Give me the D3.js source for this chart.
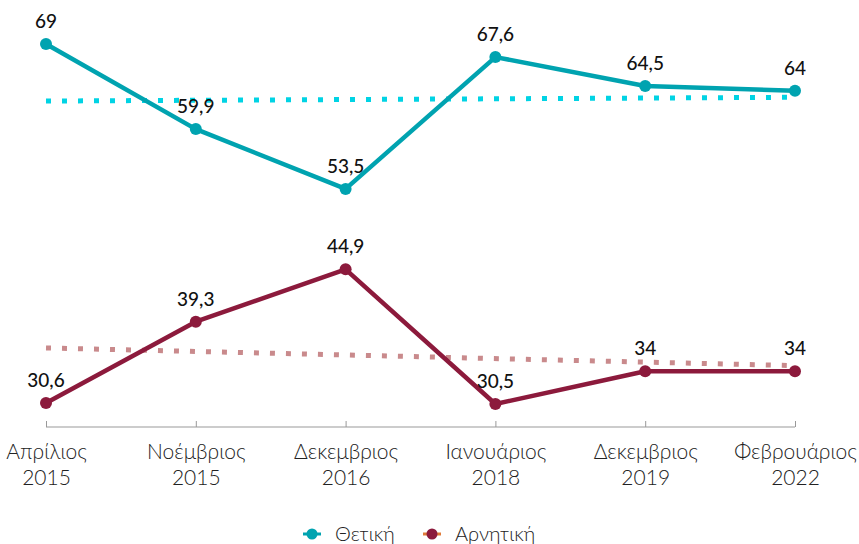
<!DOCTYPE html>
<html>
<head>
<meta charset="utf-8">
<script src="https://cdn.jsdelivr.net/npm/d3@7"></script>
<style>
  body { margin: 0; background: #fff; }
  svg text { font-family: Lato, "Noto Sans", sans-serif; }
  .axis path, .axis line { stroke: #999; }
  .axis text { font-size: 21px; font-weight: 300; fill: #222; }
  .lbl { font-size: 19px; font-weight: 500; fill: #111; }
  .legend text { font-size: 20px; font-weight: 300; fill: #222; }
</style>
</head>
<body>
<div id="chart"></div>
<script>
var months = ["Απρίλιος", "Νοέμβριος", "Δεκεμβριος", "Ιανουάριος", "Δεκεμβριος", "Φεβρουάριος"];
var years = ["2015", "2015", "2016", "2018", "2019", "2022"];
var positive = [69, 59.9, 53.5, 67.6, 64.5, 64];
var negative = [30.6, 39.3, 44.9, 30.5, 34, 34];
// trend line end values
var positiveTrend = [62.9, 63.3];
var negativeTrend = [36.5, 34.6];
var labels = ["Θετική", "Αρνητική"];

var width = 859, height = 544;
var svg = d3.select("#chart").append("svg")
    .attr("width", width)
    .attr("height", height);

var x = d3.scalePoint().domain(d3.range(months.length)).range([46, 795]);
var y = d3.scaleLinear().domain([30.5, 69]).range([404, 44]);

// x axis
var xAxis = d3.axisBottom(x).tickSize(6).tickSizeOuter(0).tickFormat("");
var gx = svg.append("g")
    .attr("class", "axis")
    .attr("transform", "translate(0,427)")
    .call(xAxis);
gx.select(".domain").attr("d", "M" + x(0) + ",0H" + x(months.length - 1));
gx.selectAll(".tick line").attr("y2", -6);
gx.selectAll(".tick").append("text")
    .attr("y", 32).attr("text-anchor", "middle")
    .text(function (d) { return months[d]; });
gx.selectAll(".tick").append("text")
    .attr("y", 58).attr("text-anchor", "middle")
    .text(function (d) { return years[d]; });

var line = d3.line()
    .x(function (d, i) { return x(i); })
    .y(function (d) { return y(d); });

var trendLine = d3.line()
    .x(function (d, i) { return x(i * (months.length - 1)); })
    .y(function (d) { return y(d); });

// trends
svg.append("path").attr("d", trendLine(positiveTrend))
    .attr("fill", "none").attr("stroke", "#00d3e4")
    .attr("stroke-width", 5).attr("stroke-dasharray", "5,11");
svg.append("path").attr("d", trendLine(negativeTrend))
    .attr("fill", "none").attr("stroke", "#c98a8c")
    .attr("stroke-width", 5).attr("stroke-dasharray", "5,11");

function drawSeries(data, color) {
    svg.append("path").attr("d", line(data))
        .attr("fill", "none").attr("stroke", color)
        .attr("stroke-width", 4.5).attr("stroke-linejoin", "round");
    svg.selectAll(null).data(data).enter().append("circle")
        .attr("cx", function (d, i) { return x(i); })
        .attr("cy", function (d) { return y(d); })
        .attr("r", 6).attr("fill", color);
    svg.selectAll(null).data(data).enter().append("text")
        .attr("class", "lbl")
        .attr("x", function (d, i) { return x(i); })
        .attr("y", function (d) { return y(d) - 16; })
        .attr("text-anchor", "middle")
        .text(function (d) { return String(d).replace(".", ","); });
}
drawSeries(positive, "#00a3b0");
drawSeries(negative, "#8c1a3c");

// legend
var legend = svg.append("g").attr("class", "legend");
var items = [
    { label: labels[0], color: "#00a3b0", lineColor: "#00a3b0", x: 312 },
    { label: labels[1], color: "#8c1a3c", lineColor: "#e07b39", x: 432 }
];
items.forEach(function (it) {
    legend.append("line").attr("x1", it.x - 9).attr("x2", it.x + 9)
        .attr("y1", 534).attr("y2", 534)
        .attr("stroke", it.lineColor).attr("stroke-width", 3);
    legend.append("circle").attr("cx", it.x).attr("cy", 534).attr("r", 5.5).attr("fill", it.color);
    legend.append("text").attr("x", it.x + 23).attr("y", 541).text(it.label);
});
</script>
</body>
</html>
